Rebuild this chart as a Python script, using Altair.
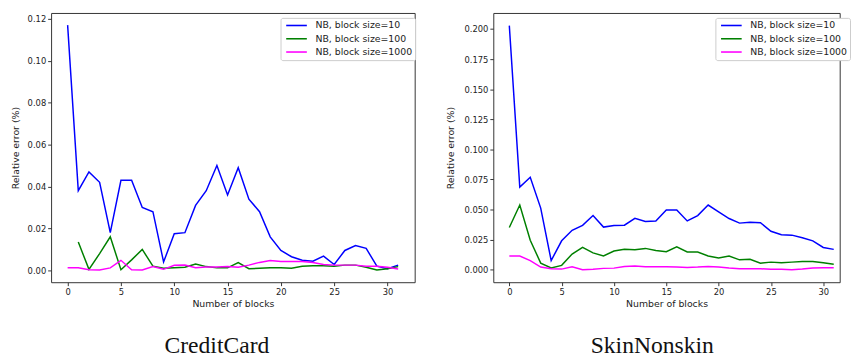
import altair as alt
import pandas as pd

blocks = list(range(32))
series_names = ["NB, block size=10", "NB, block size=100", "NB, block size=1000"]
series_colors = ["#0000ff", "#008000", "#ff00ff"]

# CreditCard
cc_bs10 = [0.117, 0.038, 0.047, 0.042, 0.018, 0.043, 0.043, 0.030, 0.028, 0.004,
           0.0175, 0.018, 0.031, 0.038, 0.050, 0.036, 0.049, 0.034, 0.028, 0.016,
           0.0095, 0.0065, 0.0048, 0.0044, 0.0068, 0.0028, 0.0095, 0.0118, 0.0105, 0.002,
           0.0008, 0.0025]
cc_bs100_blocks = list(range(1, 32))
cc_bs100 = [0.0135, 0.0005, 0.008, 0.016, 0.0003, 0.005, 0.010, 0.002, 0.001,
            0.0012, 0.0015, 0.003, 0.0018, 0.0012, 0.0012, 0.0037, 0.0008, 0.001, 0.0013,
            0.0012, 0.001, 0.002, 0.0022, 0.0022, 0.002, 0.0025, 0.0025, 0.0015, 0.0002,
            0.0008, 0.0018]
cc_bs1000 = [0.0012, 0.0012, 0.0003, 0.0002, 0.0012, 0.0048, 0.0003, 0.0002, 0.0018, 0.0005,
             0.0024, 0.0026, 0.0013, 0.0016, 0.0016, 0.0018, 0.0015, 0.0025, 0.0038, 0.0047,
             0.0042, 0.0042, 0.0042, 0.0038, 0.0028, 0.0025, 0.0025, 0.0025, 0.002, 0.002,
             0.0015, 0.0007]

# SkinNonskin
sk_bs10 = [0.2028, 0.0686, 0.0768, 0.0512, 0.0076, 0.024, 0.0327, 0.0368, 0.045, 0.0354,
           0.0368, 0.037, 0.0427, 0.040, 0.0405, 0.0496, 0.0496, 0.0405, 0.045, 0.0537,
           0.048, 0.0425, 0.0387, 0.0395, 0.039, 0.0319, 0.029, 0.0287, 0.0266, 0.024,
           0.0185, 0.0169]
sk_bs100 = [0.0351, 0.0537, 0.0245, 0.0055, 0.0014, 0.0036, 0.013, 0.0185, 0.014, 0.0114,
            0.0155, 0.017, 0.0166, 0.0177, 0.016, 0.015, 0.019, 0.0147, 0.0147, 0.0114,
            0.0098, 0.0114, 0.0082, 0.0087, 0.0054, 0.0063, 0.0057, 0.0063, 0.0068, 0.0068,
            0.0057, 0.0046]
sk_bs1000 = [0.0114, 0.0114, 0.0076, 0.0022, 0.0008, 0.0005, 0.0024, 0.0, 0.0003, 0.0011,
             0.0013, 0.0027, 0.003, 0.0024, 0.0024, 0.0025, 0.0022, 0.0019, 0.0022, 0.0027,
             0.0022, 0.0014, 0.0008, 0.0008, 0.0008, 0.0003, 0.0003, 0.0, 0.0005, 0.0014,
             0.0016, 0.0016]


def frame(pairs):
    rows = []
    for name, xs, ys in pairs:
        for x, y in zip(xs, ys):
            rows.append({"blocks": x, "err": y, "series": name})
    return pd.DataFrame(rows)


cc_df = frame([(series_names[0], blocks, cc_bs10),
               (series_names[1], cc_bs100_blocks, cc_bs100),
               (series_names[2], blocks, cc_bs1000)])
sk_df = frame([(series_names[0], blocks, sk_bs10),
               (series_names[1], blocks, sk_bs100),
               (series_names[2], blocks, sk_bs1000)])

FONT = "DejaVu Sans"


def panel(df, title, width, xdom, ydom, yticks, yfmt, extent, legx, title_dx):
    legend = alt.Legend(
        orient="none", legendX=legx, legendY=5, title=None,
        symbolType="M-1,0H9.5", symbolSize=16, symbolStrokeWidth=1.6,
        fillColor="white", strokeColor="#cccccc", padding=3, cornerRadius=2,
        labelFontSize=9.5, labelFont=FONT, labelColor="#222222", labelOffset=23,
        rowPadding=2.5,
    )
    return alt.Chart(df).mark_line(strokeWidth=1.5, clip=True).encode(
        x=alt.X("blocks:Q", scale=alt.Scale(domain=xdom, nice=False, zero=False),
                axis=alt.Axis(values=[0, 5, 10, 15, 20, 25, 30], title="Number of blocks",
                              format="d")),
        y=alt.Y("err:Q", scale=alt.Scale(domain=ydom, nice=False, zero=False),
                axis=alt.Axis(values=yticks, format=yfmt, title="Relative error (%)",
                              minExtent=extent, maxExtent=extent)),
        color=alt.Color("series:N", scale=alt.Scale(domain=series_names, range=series_colors),
                        legend=legend),
        detail="series:N",
    ).properties(
        width=width, height=274,
        title=alt.TitleParams(title, orient="bottom", font="Liberation Serif", fontSize=24,
                              fontWeight="normal", color="#111111", offset=27, anchor="middle",
                              frame="bounds", dx=title_dx),
    )


left = panel(cc_df, "CreditCard", 370, [-1.55, 32.55], [-0.00565, 0.12282],
             [0.0, 0.02, 0.04, 0.06, 0.08, 0.10, 0.12], ".2f", 25.5, 233.5, 4)
right = panel(sk_df, "SkinNonskin", 352.5, [-1.53, 31.57], [-0.0104, 0.2133],
              [0.0, 0.025, 0.05, 0.075, 0.1, 0.125, 0.15, 0.175, 0.2], ".3f", 32, 226, 4)

chart = alt.hconcat(left, right, spacing=29).resolve_scale(
    x="independent", y="independent", color="independent"
).resolve_legend(color="independent").configure(
    padding={"left": 10, "top": 9, "right": 0, "bottom": 0},
    background="white",
).configure_view(
    stroke="#333333", strokeWidth=1
).configure_axis(
    grid=False, domain=False, ticks=True, tickSize=3.5, tickColor="#333333", tickWidth=1,
    labelFont=FONT, labelFontSize=8.5, labelColor="#222222", labelPadding=2,
    titleFont=FONT, titleFontSize=9.5, titleFontWeight="normal", titleColor="#222222",
    labelFlush=False,
).configure_axisY(titlePadding=6).configure_axisX(titlePadding=3)

chart.save("out.html", embed_options={"renderer": "svg", "actions": False})
